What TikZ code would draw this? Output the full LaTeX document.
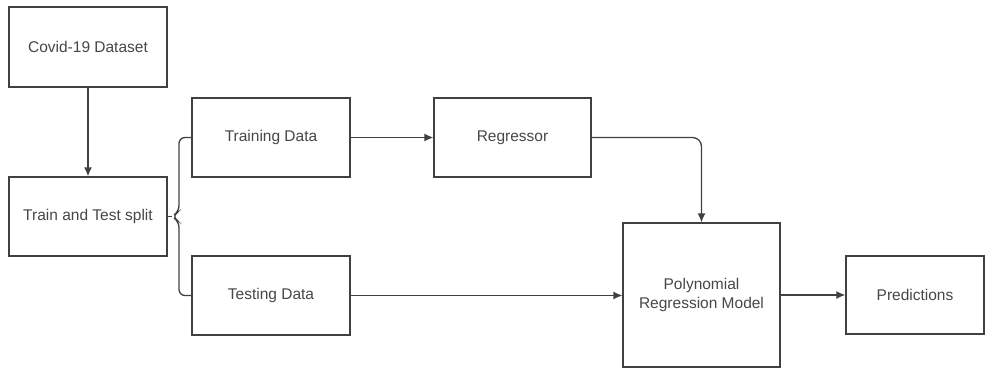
\documentclass[tikz,border=0pt]{standalone}
\usepackage{fontspec}
\setmainfont{Liberation Sans}
\usetikzlibrary{positioning,arrows.meta,calc}
\tikzset{block/.style n args={2}{
    draw=black!75, line width=1.3pt, fill=white,
    minimum width=#1, minimum height=#2,
    inner sep=2pt, align=center, text=black!72,
    font=\fontsize{15.5}{19}\selectfont
    },
    line/.style={draw=black!75, line width=1.3pt}
}

\begin{document}
\begin{tikzpicture}[x=1pt,y=-1pt,>={Latex[length=9pt,width=8pt]}]
		\useasboundingbox (0,0) rectangle (992,369);
		\node[block={158pt}{80pt}] (data) at (88,47) {Covid-19 Dataset};
		\node[block={158pt}{79pt}] (split) at (88,216.5) {Train and Test split};
		\node[block={158pt}{79pt}] (train) at (271,137.5) {Training Data};
		\node[block={158pt}{79pt}] (test) at (271,295.5) {Testing Data};
		\node[block={157pt}{79pt}] (reg) at (512.5,137.5) {Regressor};
		\node[block={157pt}{144pt}] (poly) at (701.5,295) {Polynomial\\Regression Model};
		\node[block={138pt}{78pt}] (pred) at (915,295) {Predictions};
		\coordinate (tip) at (172,216.5);

		\draw [line,->] (data) -- (split);
		\draw [line,rounded corners=6pt] (train.west) -| ($(tip)+(7,-5)$) -- (tip) -- ($(tip)+(7,5)$) |- (test.west);
		\draw [line] (split.east) -- (tip);
		\draw [line,->] (train) -- (reg);
		\draw [line,->,rounded corners=9pt] (reg.east) -| (poly.north);
		\draw [line,->] (test.east) -- (test.east -| poly.west);
		\draw [line,->] (poly) -- (pred);
	\end{tikzpicture}
\end{document}
